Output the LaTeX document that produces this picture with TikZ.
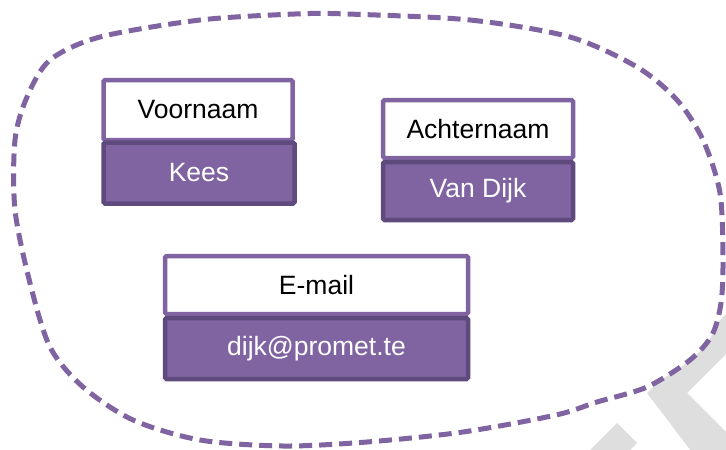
\documentclass[tikz,border=0pt]{standalone}
\usepackage{fontspec}
\setmainfont{Liberation Sans}
\definecolor{bpurple}{HTML}{8064A2}
\definecolor{dpurple}{HTML}{5E4A7D}
\definecolor{wmgray}{HTML}{DEDEDE}
\begin{document}
\begin{tikzpicture}[x=1pt,y=-1pt,
 lbl/.style={draw=bpurple, fill=white, line width=4.5pt, rounded corners=1.5pt, inner sep=0pt, font=\fontsize{26.5}{30}\selectfont, text=black},
 val/.style={draw=dpurple, fill=bpurple, line width=4.5pt, rounded corners=1.5pt, inner sep=0pt, font=\fontsize{26.5}{30}\selectfont, text=white},
 bubble/.style={draw=bpurple, fill=white, line width=5pt, dash pattern=on 13pt off 7pt}]
\useasboundingbox (0,0) rectangle (726,450);
\begin{scope}
\clip (0,0) rectangle (726,450);
\fill[wmgray] (647,393) -- (760,280) -- (760,320) -- (687,393) -- (760,466) -- (760,480) -- (713,480) -- cycle;
\fill[wmgray] (617,423) -- (637,443) -- (600,480) -- (560,480) -- cycle;
\end{scope}
\draw[bubble] plot[smooth cycle] coordinates {(347,14) (470,20) (570,37) (637,67) (677,100) (703,140) (720,193) (723,260) (721,303) (712,335) (690,360) (647,387) (597,402) (556,415) (463,432) (367,442) (283,446) (200,440) (133,420) (83,387) (50,347) (30,283) (15,210) (15,140) (27,97) (50,60) (100,37) (200,20) (295,14)};
\node[lbl, minimum width=189pt, minimum height=60pt] (vn) at (198,110) {Voornaam};
\node[val, minimum width=191pt, minimum height=61pt] (vnv) at (199,173) {Kees};
\node[lbl, minimum width=190pt, minimum height=58pt] (an) at (478,129) {Achternaam};
\node[val, minimum width=190pt, minimum height=58pt] (anv) at (478,191) {Van Dijk};
\node[lbl, minimum width=303pt, minimum height=58pt] (em) at (316.5,285) {E-mail};
\node[val, minimum width=303pt, minimum height=61pt] (emv) at (316.5,348.5) {dijk@promet.te};
\end{tikzpicture}
\end{document}
